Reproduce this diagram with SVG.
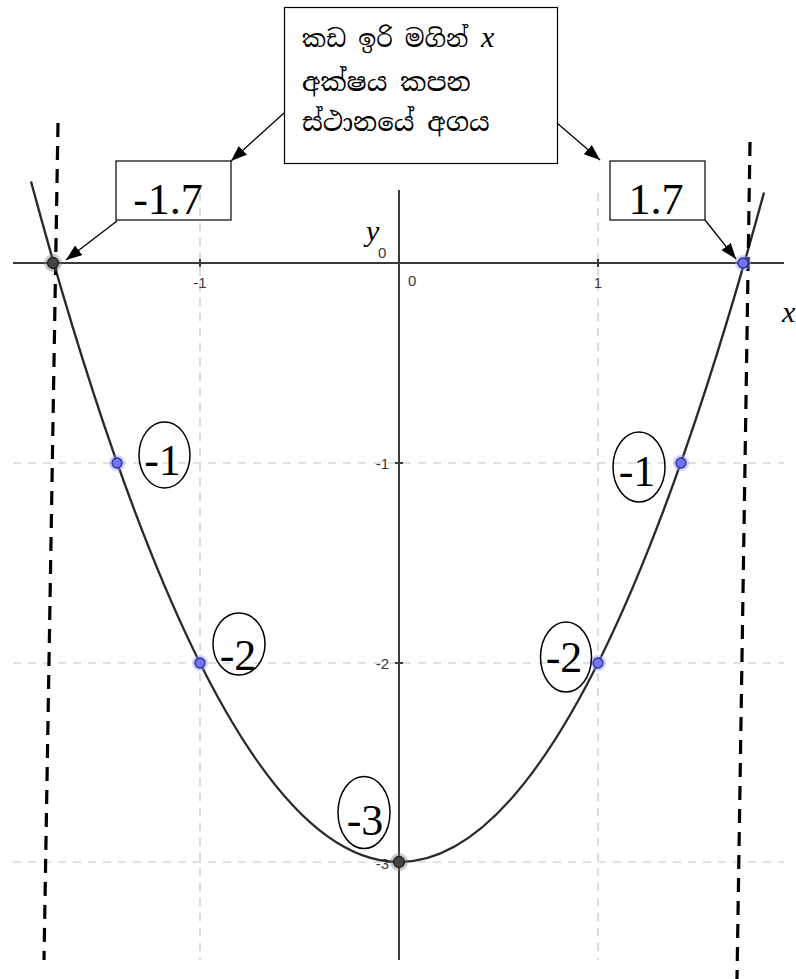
<svg xmlns="http://www.w3.org/2000/svg" width="796" height="979" viewBox="0 0 796 979">
<style>
.grid{stroke:#c4c4c4;stroke-width:1.2;stroke-dasharray:8 7;fill:none}
.axis{stroke:#3a3a3a;stroke-width:2;fill:none}
.tick{font-family:"Liberation Sans","DejaVu Sans",sans-serif;font-size:15px;fill:#3a3a3a}
.curve{stroke:#2a2a2a;stroke-width:2.4;fill:none}
.asym{stroke:#000;stroke-width:3.2;stroke-dasharray:14 9;fill:none}
.box{fill:none;stroke:#000;stroke-width:1.2}
.val{font-family:"Liberation Serif","Times New Roman",serif;font-size:44px;fill:#000;text-anchor:middle}
.oval{fill:none;stroke:#000;stroke-width:1.5}
.si{font-family:"Noto Serif Sinhala","Noto Sans Sinhala","Iskoola Pota","Noto Sans",sans-serif;font-size:26px;fill:#000}
.it{font-family:"Liberation Serif","Times New Roman",serif;font-style:italic}
.conn{stroke:#000;stroke-width:1.3;fill:none;marker-end:url(#ah)}
.halo-b{fill:#9a9aff;opacity:0.45}
.pt-b{fill:#7474ee;stroke:#2e2e9a;stroke-width:1.3}
.halo-d{fill:#777;opacity:0.4}
.pt-d{fill:#444;stroke:#1e1e1e;stroke-width:1.3}
</style>
<defs>
<marker id="ah" viewBox="0 0 16 12" refX="16" refY="6" markerWidth="16" markerHeight="12" markerUnits="userSpaceOnUse" orient="auto">
<path d="M0,0 L16,6 L0,12 z" fill="#000"/>
</marker>
</defs>
<rect width="796" height="979" fill="#fff"/>
<g id="grid">
<line class="grid" x1="200" y1="193" x2="200" y2="960"/>
<line class="grid" x1="598" y1="193" x2="598" y2="960"/>
<line class="grid" x1="13" y1="463" x2="784" y2="463"/>
<line class="grid" x1="13" y1="663" x2="784" y2="663"/>
<line class="grid" x1="13" y1="862" x2="784" y2="862"/>
</g>
<g id="axes">
<line class="axis" x1="13" y1="263" x2="784" y2="263"/>
<line class="axis" x1="399" y1="190" x2="399" y2="960"/>
<line class="axis" x1="200" y1="259" x2="200" y2="267" stroke-width="1.2"/>
<line class="axis" x1="598" y1="259" x2="598" y2="267" stroke-width="1.2"/>
<line class="axis" x1="395" y1="463" x2="403" y2="463" stroke-width="1.2"/>
<line class="axis" x1="395" y1="663" x2="403" y2="663" stroke-width="1.2"/>
<line class="axis" x1="395" y1="862" x2="403" y2="862" stroke-width="1.2"/>
<text class="tick" x="200" y="288" text-anchor="middle">-1</text>
<text class="tick" x="598" y="288" text-anchor="middle">1</text>
<text class="tick" x="408" y="286">0</text>
<text class="tick" x="378" y="258">0</text>
<text class="tick" x="389" y="469" text-anchor="end">-1</text>
<text class="tick" x="389" y="669" text-anchor="end">-2</text>
<text class="tick" x="389" y="869" text-anchor="end">-3</text>
<text class="it" x="366" y="241" font-size="30">y</text>
<text class="it" x="782" y="322" font-size="30">x</text>
</g>
<g id="curve">
<path class="curve" d="M31,181.5 Q397.5,1537 764,192.5"/>
</g>
<g id="asymptote-lines">
<line class="asym" x1="58" y1="123" x2="44" y2="960"/>
<line class="asym" x1="750" y1="142" x2="737" y2="979"/>
</g>
<g id="points">
<circle class="halo-d" cx="53" cy="263" r="9"/><circle class="pt-d" cx="53" cy="263" r="5.5"/>
<circle class="halo-d" cx="399" cy="862" r="9"/><circle class="pt-d" cx="399" cy="862" r="5.5"/>
<circle class="halo-b" cx="117" cy="463" r="8"/><circle class="pt-b" cx="117" cy="463" r="5"/>
<circle class="halo-b" cx="200" cy="663" r="8"/><circle class="pt-b" cx="200" cy="663" r="5"/>
<circle class="halo-b" cx="598" cy="663" r="8"/><circle class="pt-b" cx="598" cy="663" r="5"/>
<circle class="halo-b" cx="681" cy="463" r="8"/><circle class="pt-b" cx="681" cy="463" r="5"/>
<circle class="halo-b" cx="743" cy="263" r="8"/><circle class="pt-b" cx="743" cy="263" r="5"/>
</g>
<g id="callout">
<rect class="box" x="284.5" y="7.5" width="273" height="156" fill="#fff"/>
<text class="si" x="302" y="47"><tspan font-size="24">කඩ ඉරි මගින්</tspan><tspan class="it" x="481" font-size="30">x</tspan></text>
<text class="si" x="302" y="91">අක්ෂය කපන</text>
<text class="si" x="302" y="131">ස්ථානයේ අගය</text>
</g>
<g id="label-neg17">
<rect class="box" x="116" y="161" width="115" height="59"/>
<text class="val" x="168" y="214">-1.7</text>
</g>
<g id="label-pos17">
<rect class="box" x="610" y="161" width="95" height="59"/>
<text class="val" x="656" y="214">1.7</text>
</g>
<g id="oval-left-1">
<ellipse class="oval" cx="164.5" cy="455" rx="25.5" ry="33"/>
<text class="val" x="162.5" y="475">-1</text>
</g>
<g id="oval-left-2">
<ellipse class="oval" cx="239" cy="644" rx="26" ry="31"/>
<text class="val" x="238" y="670">-2</text>
</g>
<g id="oval-right-1">
<ellipse class="oval" cx="639" cy="467" rx="26" ry="35"/>
<text class="val" x="637" y="486">-1</text>
</g>
<g id="oval-right-2">
<ellipse class="oval" cx="566" cy="657" rx="25.5" ry="35"/>
<text class="val" x="564" y="672">-2</text>
</g>
<g id="oval-3">
<ellipse class="oval" cx="364" cy="812.5" rx="26" ry="36"/>
<text class="val" x="365" y="835" font-size="48">-3</text>
</g>
<g id="connectors">
<line class="conn" x1="284" y1="113" x2="231" y2="161"/>
<line class="conn" x1="117" y1="221" x2="66" y2="260"/>
<line class="conn" x1="557" y1="123" x2="600" y2="160"/>
<line class="conn" x1="705" y1="220" x2="736" y2="259"/>
</g>
</svg>
